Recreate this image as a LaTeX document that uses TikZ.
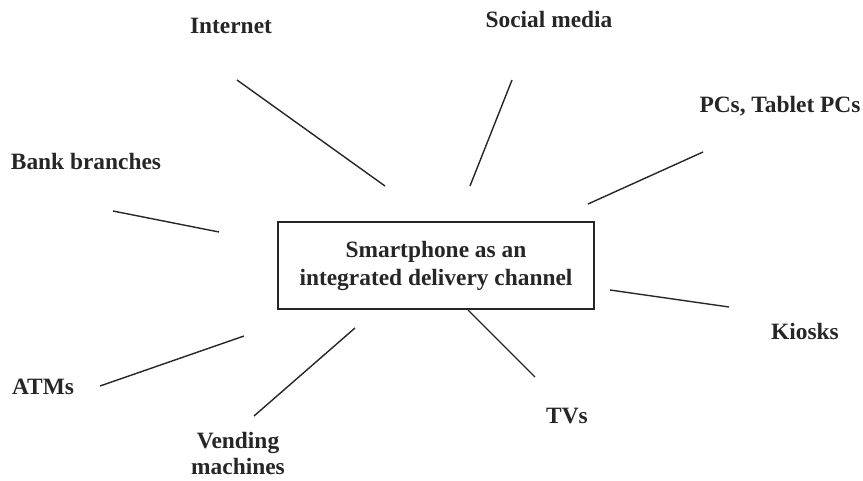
\documentclass[tikz,border=0pt]{standalone}
\usepackage{fontspec}
\setmainfont{Liberation Serif}
\begin{document}
\begin{tikzpicture}[x=1pt,y=-1pt,
  lbl/.style={font=\fontsize{23.4}{26}\selectfont\bfseries, inner sep=0pt, align=center, text=black!85},
  link/.style={line width=1.4pt, black!85},
  hub/.style={draw=black!85, line width=1.4pt, minimum width=316pt, minimum height=87pt, inner sep=0pt, align=center,
     font=\fontsize{23.4}{28}\selectfont\bfseries, text=black!85}]
\useasboundingbox (0,0) rectangle (863,480);
\node[hub] (c) at (436,265.5) {Smartphone as an\\integrated delivery channel};
\node[lbl] (internet) at (231,26) {Internet};
\node[lbl] (social) at (549,19) {Social media};
\node[lbl] (pcs) at (780,106) {PCs, Tablet PCs};
\node[lbl] (bank) at (86,161) {Bank branches};
\node[lbl] (kiosks) at (805,331) {Kiosks};
\node[lbl] (tvs) at (567,416) {TVs};
\node[lbl] (atms) at (43,387) {ATMs};
\node[lbl] (vend) at (238,453) {Vending\\machines};
\coordinate (i1) at (237,80); \coordinate (i2) at (385,186);
\coordinate (s1) at (512,80); \coordinate (s2) at (470,186);
\coordinate (p1) at (703,152); \coordinate (p2) at (588,204);
\coordinate (b1) at (113,211); \coordinate (b2) at (219,232);
\coordinate (k1) at (610,290); \coordinate (k2) at (729,307);
\coordinate (t1) at (468,310); \coordinate (t2) at (535,377);
\coordinate (a1) at (100,386); \coordinate (a2) at (244,336);
\coordinate (v1) at (254,416); \coordinate (v2) at (355,328);
\draw[link] (i1) -- (i2);
\draw[link] (s1) -- (s2);
\draw[link] (p1) -- (p2);
\draw[link] (b1) -- (b2);
\draw[link] (k1) -- (k2);
\draw[link] (t1) -- (t2);
\draw[link] (a1) -- (a2);
\draw[link] (v1) -- (v2);
\end{tikzpicture}
\end{document}
